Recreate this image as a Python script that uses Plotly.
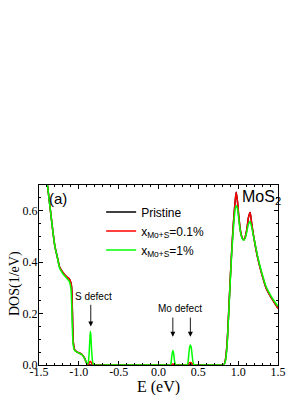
import plotly.graph_objects as go

E = [-1.50, -1.45, -1.42, -1.39, -1.36, -1.33, -1.30, -1.27, -1.24, -1.20, -1.16, -1.12,
     -1.10, -1.09, -1.08, -1.07, -1.05, -1.02, -0.99, -0.96, -0.93, -0.91, -0.89,
     -0.88, -0.87, -0.86, -0.855, -0.85, -0.84, -0.83, -0.82, -0.80, -0.60, -0.40,
     -0.20, 0.00, 0.10, 0.15, 0.16, 0.17, 0.18, 0.19, 0.20, 0.21, 0.22, 0.30, 0.36,
     0.37, 0.38, 0.39, 0.40, 0.41, 0.42, 0.43, 0.44, 0.46, 0.60, 0.75, 0.82, 0.84,
     0.86, 0.88, 0.90, 0.92, 0.94, 0.96, 0.975, 0.99, 1.01, 1.03, 1.05, 1.07, 1.09,
     1.11, 1.13, 1.15, 1.17, 1.20, 1.25, 1.30, 1.35, 1.40, 1.45, 1.50]

pristine = [0.95, 0.85, 0.76, 0.69, 0.61, 0.53, 0.46, 0.42, 0.38, 0.36, 0.345, 0.335,
            0.32, 0.30, 0.20, 0.09, 0.058, 0.05, 0.046, 0.041, 0.028, 0.012, 0.002,
            0.0, 0.0, 0.0, 0.0, 0.0, 0.0, 0.0, 0.0, 0.0, 0.0, 0.0,
            0.0, 0.0, 0.0, 0.0, 0.0, 0.0, 0.0, 0.0, 0.0, 0.0, 0.0, 0.0, 0.0,
            0.0, 0.0, 0.0, 0.0, 0.0, 0.0, 0.0, 0.0, 0.0, 0.0, 0.0, 0.0, 0.02,
            0.08, 0.20, 0.33, 0.45, 0.55, 0.63, 0.672, 0.64, 0.57, 0.52, 0.495, 0.487, 0.50,
            0.53, 0.575, 0.593, 0.55, 0.49, 0.41, 0.35, 0.30, 0.27, 0.245, 0.22]

x01 = [0.95, 0.85, 0.76, 0.69, 0.61, 0.53, 0.46, 0.42, 0.38, 0.36, 0.345, 0.335,
       0.32, 0.30, 0.20, 0.09, 0.058, 0.05, 0.046, 0.041, 0.028, 0.012, 0.003,
       0.002, 0.008, 0.014, 0.015, 0.013, 0.007, 0.002, 0.0, 0.0, 0.0, 0.0,
       0.0, 0.0, 0.0, 0.0, 0.001, 0.003, 0.004, 0.003, 0.001, 0.0, 0.0, 0.0, 0.001,
       0.003, 0.006, 0.009, 0.010, 0.009, 0.006, 0.003, 0.001, 0.0, 0.0, 0.0, 0.0, 0.02,
       0.08, 0.20, 0.33, 0.45, 0.55, 0.63, 0.672, 0.64, 0.57, 0.52, 0.495, 0.487, 0.50,
       0.53, 0.575, 0.593, 0.55, 0.49, 0.41, 0.35, 0.30, 0.27, 0.245, 0.22]

x1 = [0.95, 0.85, 0.76, 0.69, 0.61, 0.53, 0.46, 0.42, 0.375, 0.355, 0.34, 0.325,
      0.30, 0.24, 0.13, 0.075, 0.055, 0.05, 0.045, 0.040, 0.027, 0.012, 0.004,
      0.012, 0.05, 0.11, 0.13, 0.12, 0.06, 0.02, 0.004, 0.0, 0.0, 0.0,
      0.0, 0.0, 0.0, 0.001, 0.015, 0.040, 0.056, 0.045, 0.018, 0.004, 0.0, 0.0, 0.001,
      0.010, 0.040, 0.068, 0.078, 0.070, 0.045, 0.018, 0.004, 0.0, 0.0, 0.0, 0.0, 0.015,
      0.07, 0.19, 0.32, 0.44, 0.53, 0.60, 0.62, 0.61, 0.56, 0.515, 0.492, 0.485, 0.495,
      0.52, 0.548, 0.558, 0.535, 0.49, 0.415, 0.355, 0.305, 0.275, 0.25, 0.228]

xticks = [-1.5, -1.0, -0.5, 0.0, 0.5, 1.0, 1.5]
yticks = [0.0, 0.2, 0.4, 0.6]

fig = go.Figure()
fig.add_trace(go.Scatter(x=E, y=pristine, mode="lines", name="Pristine",
                         line=dict(color="black", width=1.5, shape="spline", smoothing=0.6)))
fig.add_trace(go.Scatter(x=E, y=x01, mode="lines", name="x<sub>Mo+S</sub>=0.1%",
                         line=dict(color="#ff0000", width=1.5, shape="spline", smoothing=0.6)))
fig.add_trace(go.Scatter(x=E, y=x1, mode="lines", name="x<sub>Mo+S</sub>=1%",
                         line=dict(color="#00ff00", width=1.5, shape="spline", smoothing=0.6)))

axis_common = dict(showline=True, linecolor="black", linewidth=1, mirror="allticks",
                   ticks="inside", ticklen=4, tickwidth=1, tickcolor="black",
                   showgrid=False, zeroline=False, automargin=False,
                   tickfont=dict(family="Liberation Serif", size=12, color="black"))

fig.update_xaxes(range=[-1.5, 1.5], tickvals=xticks,
                 ticktext=[f"{v:.1f}" for v in xticks], ticklabelstandoff=-4,
                 minor=dict(dtick=0.1, ticks="inside", ticklen=2, tickcolor="black"),
                 **axis_common)
fig.update_yaxes(range=[0, 0.7], tickvals=yticks,
                 ticktext=[f"{v:.1f}" for v in yticks], ticklabelstandoff=-2,
                 minor=dict(dtick=0.05, ticks="inside", ticklen=2, tickcolor="black"),
                 **axis_common)

title_font = dict(family="Liberation Serif", color="black")
fig.add_annotation(x=0.5, y=0, xref="paper", yref="paper", text="E (eV)", showarrow=False,
                   xanchor="center", yanchor="middle", yshift=-22,
                   font=dict(size=16, **title_font))
fig.add_annotation(x=0, y=0.45, xref="paper", yref="paper", text="DOS(1/eV)", showarrow=False,
                   xanchor="center", yanchor="middle", xshift=-24, textangle=-90,
                   font=dict(size=14, **title_font))

ann_font = dict(family="Liberation Sans", color="black")
fig.add_annotation(x=0.035, y=0.985, xref="paper", yref="paper", text="(a)", showarrow=False,
                   xanchor="left", yanchor="top", font=dict(size=15, **ann_font))
fig.add_annotation(x=1.02, y=0.995, xref="paper", yref="paper", text="MoS<sub>2</sub>",
                   showarrow=False, xanchor="right", yanchor="top", font=dict(size=16, **ann_font))
fig.add_annotation(x=-0.82, y=0.267, text="S defect", showarrow=False,
                   font=dict(size=10, **ann_font))
fig.add_annotation(x=0.275, y=0.218, text="Mo defect", showarrow=False,
                   font=dict(size=10, **ann_font))
for xa, ytail, ytip in [(-0.85, 0.24, 0.15), (0.18, 0.19, 0.11), (0.40, 0.19, 0.11)]:
    fig.add_annotation(x=xa, y=ytip, ax=xa, ay=ytail, axref="x", ayref="y", text="",
                       showarrow=True, arrowhead=2, arrowsize=1.1, arrowwidth=0.9,
                       arrowcolor="black")

fig.update_layout(
    width=305, height=395,
    margin=dict(l=31, r=35, t=177, b=38),
    paper_bgcolor="white", plot_bgcolor="white",
    showlegend=True,
    legend=dict(x=0.26, y=0.93, xanchor="left", yanchor="top", bgcolor="rgba(0,0,0,0)",
                font=dict(family="Liberation Sans", size=12, color="black"),
                itemwidth=30, tracegroupgap=0),
)

fig.write_html("out.html")
